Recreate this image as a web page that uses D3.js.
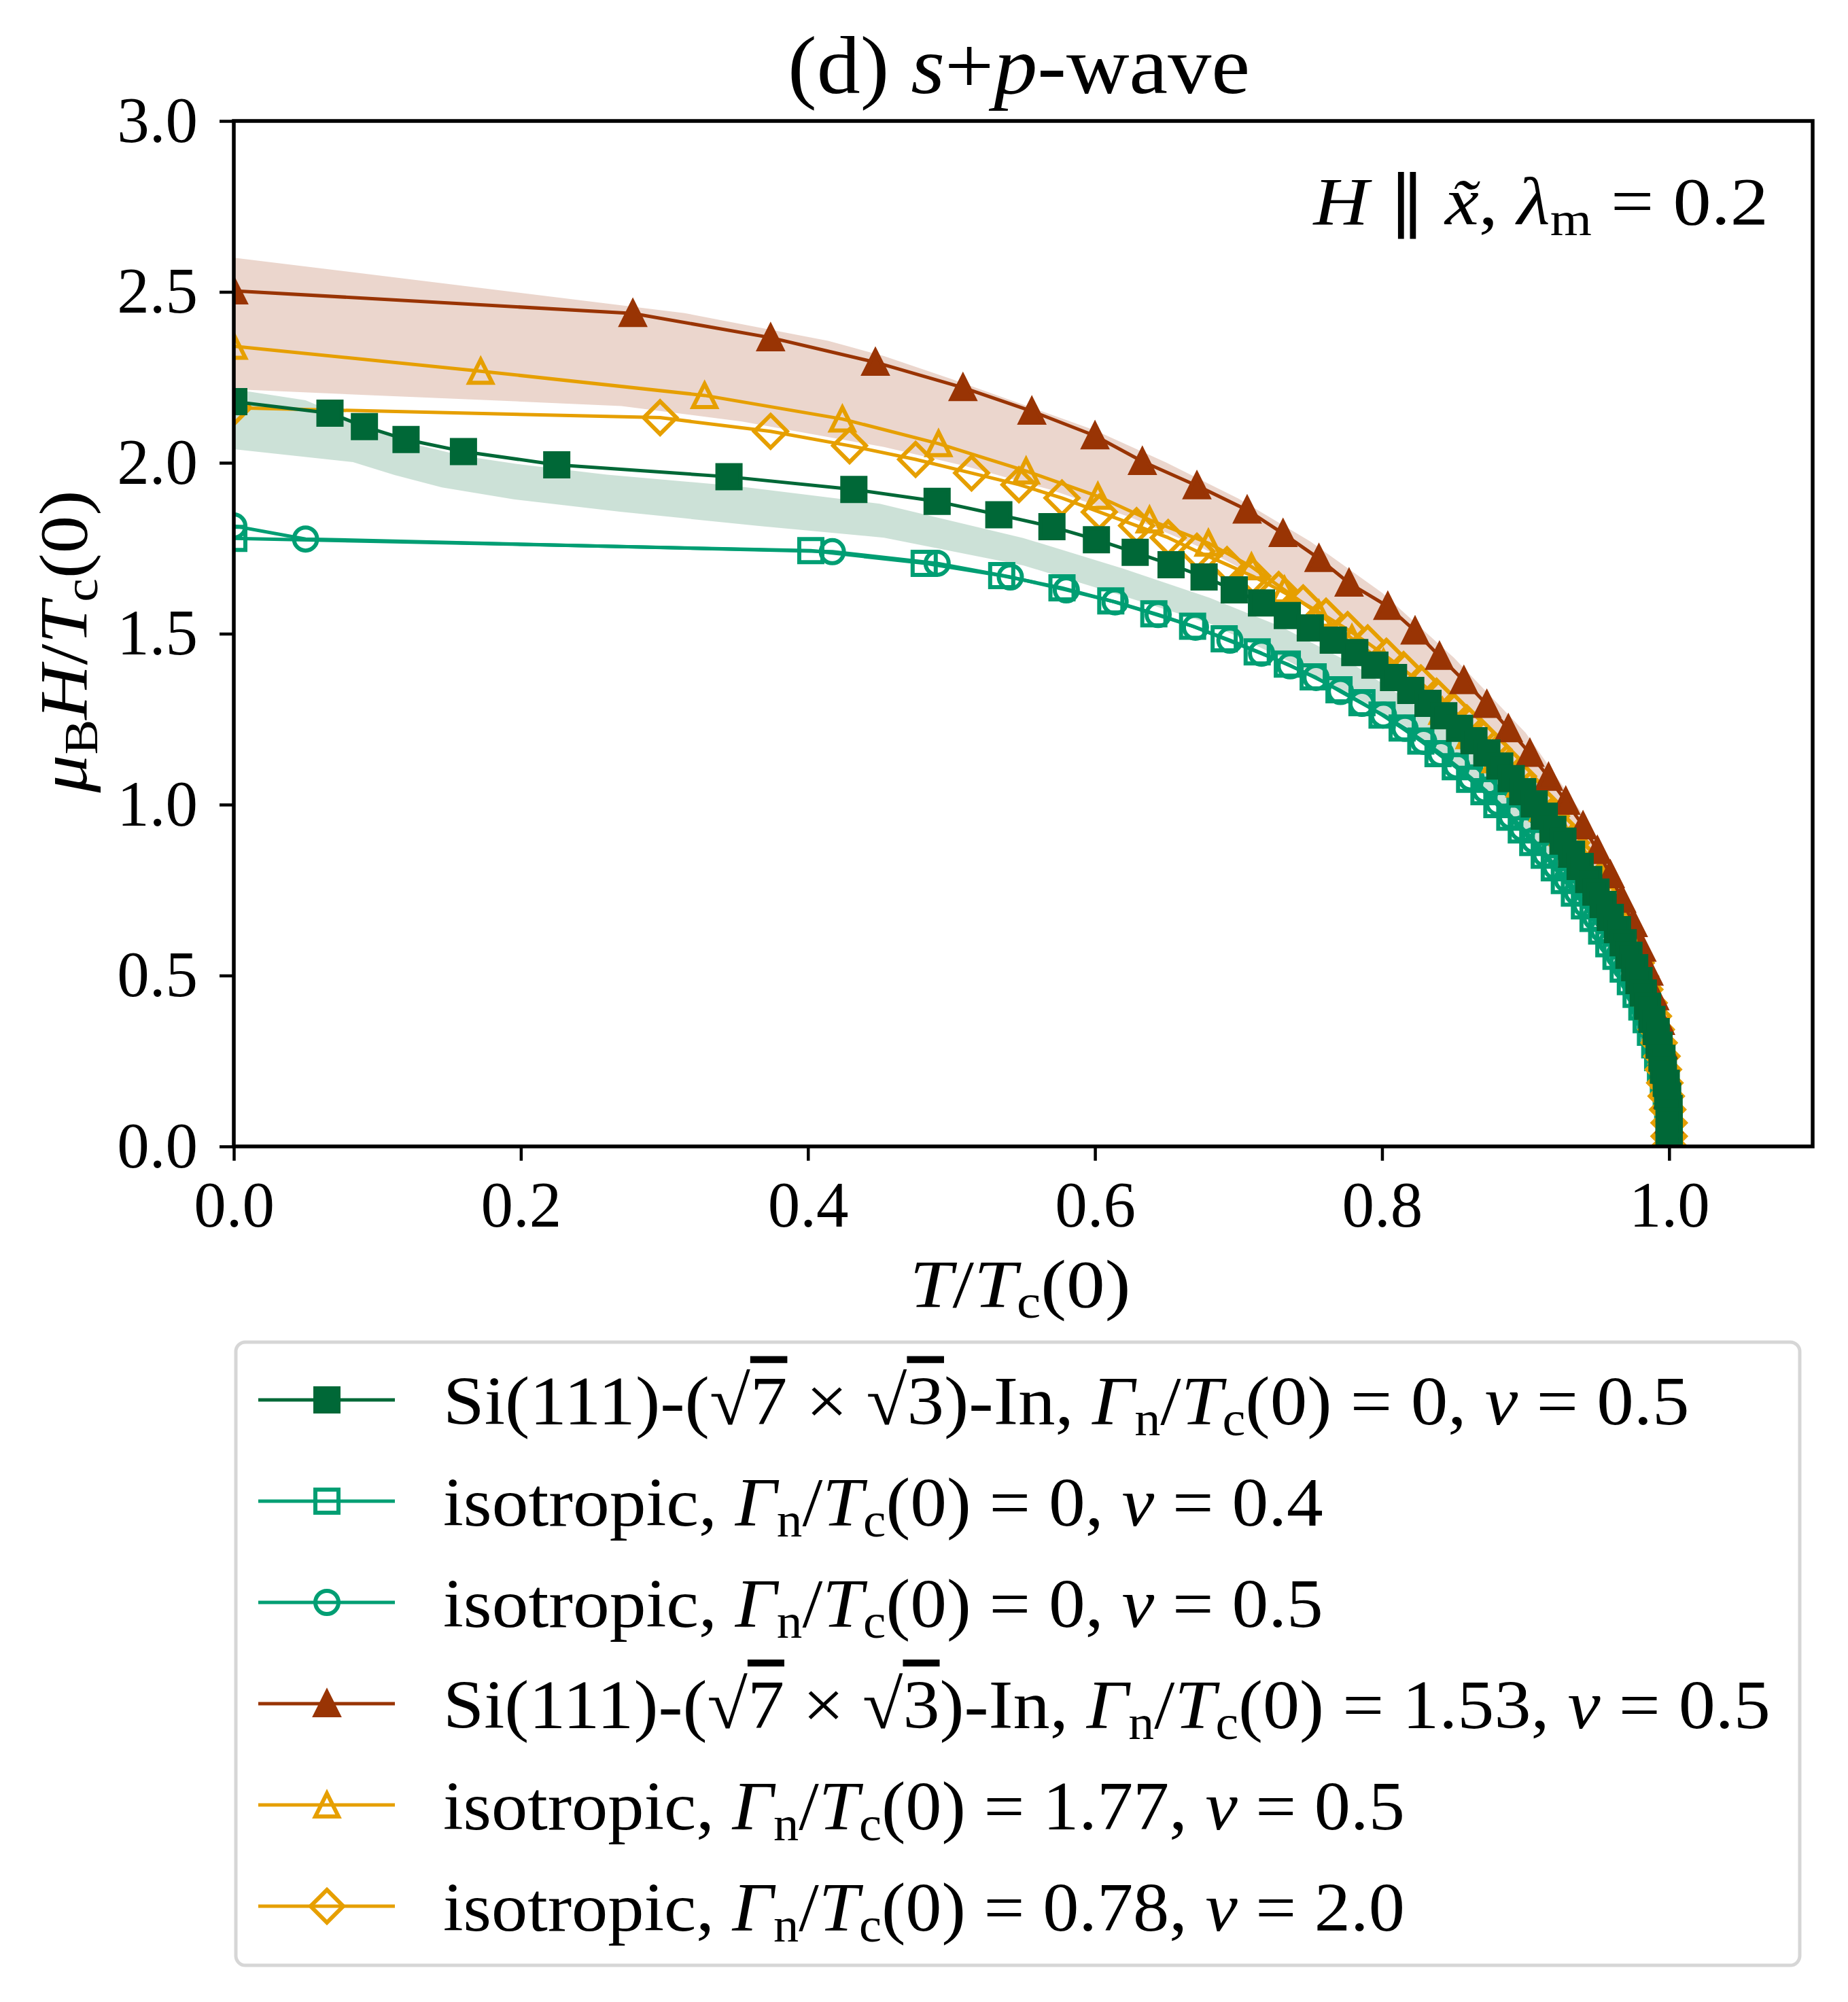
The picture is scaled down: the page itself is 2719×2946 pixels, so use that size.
<!DOCTYPE html>
<html>
<head>
<meta charset="utf-8">
<script src="https://cdn.jsdelivr.net/npm/d3@7"></script>
<style>
  body { margin: 0; background: #fff; }
  svg { display: block; }
  svg text { font-family: "Liberation Serif", "Times New Roman", serif; fill: #000; }
</style>
</head>
<body>
<div id="chart"></div>
<script>
const width = 2719;
const height = 2946;

// axis ticks
const xTicks = [0, 0.2, 0.4, 0.6, 0.8, 1.0];
const yTicks = [0, 0.5, 1.0, 1.5, 2.0, 2.5, 3.0];

// Si(111)-(sqrt7 x sqrt3)-In, Gamma_n/Tc(0) = 0, nu = 0.5
const tSiClean = [0, 0.067, 0.091, 0.12, 0.16, 0.225, 0.345, 0.432, 0.49, 0.533,
  0.570, 0.601, 0.628, 0.653, 0.676, 0.697, 0.716, 0.734, 0.750, 0.766,
  0.781, 0.795, 0.808, 0.820, 0.832, 0.843, 0.854, 0.864, 0.873, 0.882,
  0.890, 0.898, 0.906, 0.913, 0.919, 0.926, 0.932, 0.938, 0.944, 0.949,
  0.954, 0.959, 0.964, 0.968, 0.972, 0.976, 0.979, 0.982, 0.985, 0.988,
  0.991, 0.993, 0.995, 0.996, 0.998, 0.999, 1.0, 1.0, 1.0, 1.0];
const hSiClean = [2.179, 2.145, 2.106, 2.068, 2.033, 1.994, 1.959, 1.922, 1.887, 1.848,
  1.813, 1.775, 1.738, 1.702, 1.666, 1.628, 1.590, 1.553, 1.517, 1.481,
  1.445, 1.408, 1.372, 1.334, 1.296, 1.260, 1.223, 1.187, 1.151, 1.113,
  1.076, 1.038, 1.002, 0.966, 0.928, 0.893, 0.855, 0.819, 0.781, 0.744,
  0.708, 0.670, 0.634, 0.596, 0.559, 0.523, 0.485, 0.449, 0.410, 0.372,
  0.336, 0.296, 0.258, 0.223, 0.185, 0.147, 0.111, 0.074, 0.036, 0.0];

// isotropic, Gamma_n/Tc(0) = 0, nu = 0.4
const tIso04 = [0, 0.402, 0.481, 0.535, 0.577, 0.611, 0.641, 0.668, 0.690, 0.713,
  0.734, 0.752, 0.770, 0.786, 0.800, 0.814, 0.827, 0.839, 0.851, 0.861,
  0.871, 0.880, 0.889, 0.897, 0.905, 0.913, 0.920, 0.927, 0.934, 0.941,
  0.947, 0.953, 0.958, 0.963, 0.968, 0.973, 0.977, 0.981, 0.984, 0.987,
  0.990, 0.992, 0.994, 0.996, 0.998, 0.999, 1.0, 1.0, 1.0];
const hIso04 = [1.779, 1.743, 1.706, 1.670, 1.634, 1.596, 1.558, 1.522, 1.485, 1.447,
  1.411, 1.374, 1.336, 1.298, 1.262, 1.224, 1.186, 1.149, 1.111, 1.074,
  1.038, 1.000, 0.963, 0.926, 0.889, 0.852, 0.815, 0.778, 0.741, 0.704,
  0.667, 0.630, 0.593, 0.556, 0.519, 0.482, 0.445, 0.408, 0.371, 0.334,
  0.297, 0.260, 0.223, 0.186, 0.149, 0.111, 0.074, 0.037, 0.0];

// isotropic, Gamma_n/Tc(0) = 0, nu = 0.5
const tIso05 = [0, 0.05, 0.417, 0.49, 0.541, 0.580, 0.614, 0.644, 0.670, 0.694,
  0.716, 0.736, 0.754, 0.771, 0.786, 0.801, 0.816, 0.829, 0.841, 0.852,
  0.862, 0.872, 0.881, 0.890, 0.898, 0.906, 0.914, 0.921, 0.929, 0.936,
  0.942, 0.949, 0.954, 0.960, 0.965, 0.970, 0.975, 0.979, 0.982, 0.986,
  0.989, 0.991, 0.993, 0.995, 0.997, 0.998, 0.999, 1.0, 1.0, 1.0];
const hIso05 = [1.815, 1.777, 1.740, 1.706, 1.666, 1.628, 1.593, 1.556, 1.519, 1.481,
  1.443, 1.406, 1.372, 1.331, 1.296, 1.262, 1.223, 1.185, 1.149, 1.113,
  1.078, 1.042, 1.006, 0.966, 0.930, 0.895, 0.855, 0.819, 0.781, 0.744,
  0.708, 0.670, 0.634, 0.596, 0.559, 0.523, 0.485, 0.449, 0.410, 0.372,
  0.336, 0.296, 0.258, 0.223, 0.185, 0.147, 0.111, 0.074, 0.037, 0.0];

// Si(111)-(sqrt7 x sqrt3)-In, Gamma_n/Tc(0) = 1.53, nu = 0.5
const tSiDirty = [0, 0.278, 0.374, 0.447, 0.508, 0.556, 0.600, 0.633, 0.671, 0.706,
  0.731, 0.756, 0.777, 0.804, 0.823, 0.840, 0.857, 0.873, 0.888, 0.903,
  0.916, 0.928, 0.940, 0.950, 0.959, 0.967, 0.975, 0.981, 0.986, 0.990,
  0.994, 0.996, 0.998, 0.999, 1.0, 1.0];
const hSiDirty = [2.503, 2.437, 2.366, 2.294, 2.220, 2.151, 2.079, 2.004, 1.933, 1.862,
  1.793, 1.720, 1.648, 1.580, 1.508, 1.434, 1.363, 1.293, 1.222, 1.150,
  1.080, 1.010, 0.938, 0.866, 0.795, 0.723, 0.652, 0.580, 0.510, 0.438,
  0.366, 0.295, 0.222, 0.150, 0.078, 0.0];

// isotropic, Gamma_n/Tc(0) = 1.77, nu = 0.5
const tIso177 = [0, 0.172, 0.328, 0.424, 0.491, 0.552, 0.602, 0.638, 0.679, 0.709,
  0.732, 0.756, 0.779, 0.801, 0.822, 0.842, 0.861, 0.879, 0.896, 0.912,
  0.926, 0.939, 0.950, 0.960, 0.968, 0.976, 0.982, 0.987, 0.991, 0.995,
  0.997, 0.999, 1.0, 1.0];
const hIso177 = [2.341, 2.268, 2.197, 2.128, 2.056, 1.976, 1.902, 1.833, 1.765, 1.696,
  1.628, 1.557, 1.486, 1.415, 1.344, 1.273, 1.202, 1.131, 1.060, 0.989,
  0.918, 0.847, 0.776, 0.705, 0.634, 0.563, 0.492, 0.421, 0.350, 0.279,
  0.208, 0.137, 0.066, 0.0];

// isotropic, Gamma_n/Tc(0) = 0.78, nu = 2.0
const tIso078 = [0, 0.297, 0.374, 0.429, 0.475, 0.514, 0.547, 0.577, 0.603, 0.629,
  0.651, 0.671, 0.692, 0.710, 0.728, 0.745, 0.761, 0.776, 0.790, 0.803,
  0.815, 0.827, 0.838, 0.849, 0.859, 0.869, 0.878, 0.887, 0.895, 0.903,
  0.911, 0.918, 0.925, 0.932, 0.938, 0.944, 0.950, 0.955, 0.960, 0.965,
  0.969, 0.973, 0.977, 0.980, 0.983, 0.986, 0.989, 0.991, 0.993, 0.995,
  0.996, 0.997, 0.998, 0.999, 1.0, 1.0, 1.0];
const hIso078 = [2.161, 2.132, 2.092, 2.050, 2.010, 1.970, 1.936, 1.897, 1.856, 1.816,
  1.781, 1.741, 1.702, 1.668, 1.629, 1.590, 1.551, 1.512, 1.473, 1.434,
  1.395, 1.356, 1.317, 1.278, 1.239, 1.200, 1.161, 1.122, 1.083, 1.044,
  1.005, 0.966, 0.927, 0.888, 0.849, 0.810, 0.771, 0.732, 0.693, 0.654,
  0.615, 0.576, 0.537, 0.498, 0.459, 0.420, 0.381, 0.342, 0.303, 0.264,
  0.225, 0.186, 0.147, 0.108, 0.069, 0.030, 0.0];

// shaded ranges
const brownUpT = [0, 0.314, 0.414, 0.453, 0.50, 0.55, 0.60, 0.65, 0.70, 0.75, 0.80, 0.85, 0.90, 0.94, 0.97, 0.99, 1.0];
const brownUpH = [2.60, 2.438, 2.357, 2.312, 2.245, 2.17, 2.095, 2.0, 1.895, 1.77, 1.62, 1.43, 1.21, 0.97, 0.71, 0.44, 0.0];
const brownLoT = [0, 0.10, 0.20, 0.27, 0.354, 0.453, 0.51, 0.57, 0.625, 0.675, 0.72, 0.765, 0.81, 0.855, 0.90, 0.935, 0.965, 0.99, 1.0];
const brownLoH = [2.215, 2.197, 2.179, 2.166, 2.121, 2.046, 1.99, 1.92, 1.84, 1.75, 1.65, 1.53, 1.38, 1.20, 0.98, 0.76, 0.53, 0.28, 0.0];
const greenUpT = [0, 0.05, 0.08, 0.12, 0.16, 0.20, 0.26, 0.35, 0.45, 0.55, 0.62, 0.68, 0.73, 0.78, 0.82, 0.86, 0.90, 0.93, 0.96, 0.98, 0.995, 1.0];
const greenUpH = [2.215, 2.183, 2.13, 2.06, 2.02, 1.995, 1.965, 1.932, 1.88, 1.78, 1.69, 1.605, 1.52, 1.41, 1.30, 1.17, 1.0, 0.85, 0.63, 0.44, 0.2, 0.0];
const greenLoT = [0, 0.083, 0.112, 0.145, 0.195, 0.269, 0.366, 0.453, 0.55, 0.62, 0.68, 0.73, 0.78, 0.82, 0.86, 0.90, 0.93, 0.96, 0.98, 0.995, 1.0];
const greenLoH = [2.04, 2.002, 1.964, 1.928, 1.893, 1.857, 1.815, 1.781, 1.70, 1.61, 1.53, 1.43, 1.32, 1.22, 1.09, 0.92, 0.77, 0.56, 0.37, 0.17, 0.0];

// legend entries
const legendSystem = ["Si", "iso", "iso", "Si", "iso", "iso"];
const legendGamma = ["0", "0", "0", "1.53", "1.77", "0.78"];
const legendNu = ["0.5", "0.4", "0.5", "0.5", "0.5", "2.0"];

const cDark = "#006837", cTeal = "#009e73", cBrown = "#993404", cOrange = "#e69f00";

const svg = d3.select("#chart").append("svg")
  .attr("width", width)
  .attr("height", height);
svg.append("rect").attr("width", width).attr("height", height).attr("fill", "#fff");

const x = d3.scaleLinear().domain([0, 1.1]).range([344, 2667]);
const y = d3.scaleLinear().domain([0, 3]).range([1687, 178]);

svg.append("clipPath").attr("id", "plotclip").append("rect")
  .attr("x", x(0)).attr("y", y(3))
  .attr("width", x(1.1) - x(0)).attr("height", y(0) - y(3));

const plot = svg.append("g").attr("clip-path", "url(#plotclip)");

// bands
function edge(ts, hs) { return ts.map((t, i) => [x(t), y(hs[i])]); }
[
  [brownUpT, brownUpH, brownLoT, brownLoH, cBrown],
  [greenUpT, greenUpH, greenLoT, greenLoH, cDark]
].forEach(([ut, uh, lt, lh, col]) => {
  const pts = edge(ut, uh).concat(edge(lt, lh).reverse());
  plot.append("path")
    .attr("d", d3.line()(pts) + "Z")
    .attr("fill", col)
    .attr("fill-opacity", 0.2);
});

// marker shapes (matplotlib-like)
const ms = 34;
const dd = ms / Math.SQRT2;
const markerPath = {
  square: `M${-ms/2},${-ms/2}h${ms}v${ms}h${-ms}Z`,
  circle: `M${ms/2},0A${ms/2},${ms/2} 0 1,1 ${-ms/2},0A${ms/2},${ms/2} 0 1,1 ${ms/2},0Z`,
  triangle: `M0,${-ms/2}L${ms/2},${ms/2}L${-ms/2},${ms/2}Z`,
  diamond: `M0,${-dd}L${dd},0L0,${dd}L${-dd},0Z`
};

const series = {
  siClean:  { t: tSiClean, h: hSiClean, color: cDark,   marker: "square",   filled: true },
  iso04:    { t: tIso04,   h: hIso04,   color: cTeal,   marker: "square",   filled: false },
  iso05:    { t: tIso05,   h: hIso05,   color: cTeal,   marker: "circle",   filled: false },
  siDirty:  { t: tSiDirty, h: hSiDirty, color: cBrown,  marker: "triangle", filled: true },
  iso177:   { t: tIso177,  h: hIso177,  color: cOrange, marker: "triangle", filled: false },
  iso078:   { t: tIso078,  h: hIso078,  color: cOrange, marker: "diamond",  filled: false }
};
const drawOrder = ["iso04", "iso05", "iso177", "iso078", "siDirty", "siClean"];
const legendOrder = ["siClean", "iso04", "iso05", "siDirty", "iso177", "iso078"];

const lineW = 5, edgeW = 6;

function drawMarker(g, s) {
  return g.append("path")
    .attr("d", markerPath[s.marker])
    .attr("fill", s.filled ? s.color : "none")
    .attr("stroke", s.color)
    .attr("stroke-width", edgeW)
    .attr("stroke-linejoin", "miter");
}

drawOrder.forEach(key => {
  const s = series[key];
  const idx = d3.range(s.t.length);
  plot.append("path")
    .attr("d", d3.line().x(i => x(s.t[i])).y(i => y(s.h[i]))(idx))
    .attr("fill", "none")
    .attr("stroke", s.color)
    .attr("stroke-width", lineW)
    .attr("stroke-linejoin", "round");
  const g = plot.append("g");
  idx.forEach(i => {
    drawMarker(g, s).attr("transform", `translate(${x(s.t[i])},${y(s.h[i])})`);
  });
});

// axes
const fontFam = "Liberation Serif, Times New Roman, serif";
const xAxis = svg.append("g")
  .attr("transform", `translate(0,${y(0)})`)
  .call(d3.axisBottom(x).tickValues(xTicks).tickFormat(d3.format(".1f")).tickSize(21).tickPadding(30));
const yAxis = svg.append("g")
  .attr("transform", `translate(${x(0)},0)`)
  .call(d3.axisLeft(y).tickValues(yTicks).tickFormat(d3.format(".1f")).tickSize(21).tickPadding(32));
[xAxis, yAxis].forEach(a => {
  a.select(".domain").remove();
  a.attr("font-size", 95).attr("font-family", fontFam);
  a.selectAll(".tick line").attr("stroke", "#000").attr("stroke-width", 4.5);
  a.selectAll(".tick text").attr("fill", "#000");
});

svg.append("rect")
  .attr("x", x(0)).attr("y", y(3))
  .attr("width", x(1.1) - x(0)).attr("height", y(0) - y(3))
  .attr("fill", "none").attr("stroke", "#000").attr("stroke-width", 5.5);

// rich text helper: parts = [text, kind]; kind "i" italic, "sub" subscript, "ov" overline
function richText(parent, px, py, parts, size, anchor, target, rotate) {
  const g = parent.append("g")
    .attr("transform", `translate(${px},${py})` + (rotate ? ` rotate(${rotate})` : ""));
  const t = g.append("text")
    .attr("font-size", size)
    .attr("text-anchor", anchor)
    .style("white-space", "pre");
  let shift = 0;
  parts.forEach(([s, k]) => {
    const sub = k === "sub";
    const want = sub ? size * 0.16 : 0;
    const ts = t.append("tspan").text(s).attr("dy", want - shift);
    shift = want;
    if (sub) ts.attr("font-size", size * 0.7);
    if (k === "i") ts.attr("font-style", "italic");
    if (k === "ov") ts.style("text-decoration", "overline");
  });
  if (target) {
    const w = t.node().getBBox().width;
    if (w > 0) t.attr("transform", `scale(${target / w},1)`);
  }
  return t;
}

// title
richText(svg, 1499, 137,
  [["(d) ", ""], ["s", "i"], ["+", ""], ["p", "i"], ["-wave", ""]], 120, "middle", 680);

// annotation
richText(svg, 2602, 330,
  [["H", "i"], [" \u2225 ", ""], ["x\u0303", "i"], [", ", ""], ["\u03bb", "i"], ["m", "sub"], [" = 0.2", ""]],
  100, "end", 672);

// axis labels
richText(svg, 1501, 1923,
  [["T", "i"], ["/", ""], ["T", "i"], ["c", "sub"], ["(0)", ""]], 100, "middle", 325);
richText(svg, 127, 944,
  [["\u03bc", "i"], ["B", "sub"], ["H", "i"], ["/", ""], ["T", "i"], ["c", "sub"], ["(0)", ""]],
  100, "middle", 446, -90);

// legend
const legend = svg.append("g");
legend.append("rect")
  .attr("x", 347).attr("y", 1975)
  .attr("width", 2301).attr("height", 1917 - 1000)
  .attr("rx", 14)
  .attr("fill", "#fff").attr("fill-opacity", 0.8)
  .attr("stroke", "#cccccc").attr("stroke-opacity", 0.8).attr("stroke-width", 5);

const legendTargets = [1834, 1295, 1295, 1953, 1415, 1415];
legendOrder.forEach((key, i) => {
  const s = series[key];
  const cy = 2060 + 149 * i;
  legend.append("line")
    .attr("x1", 380).attr("x2", 581).attr("y1", cy).attr("y2", cy)
    .attr("stroke", s.color).attr("stroke-width", lineW);
  drawMarker(legend, s).attr("transform", `translate(481,${cy})`);
  const prefix = legendSystem[i] === "Si"
    ? [["Si(111)-(", ""], ["\u221a", ""], ["7", "ov"], [" \u00d7 ", ""], ["\u221a", ""], ["3", "ov"], [")-In, ", ""]]
    : [["isotropic, ", ""]];
  const parts = prefix.concat([
    ["\u0393", "i"], ["n", "sub"], ["/", ""], ["T", "i"], ["c", "sub"],
    [`(0) = ${legendGamma[i]}, `, ""], ["\u03bd", "i"], [` = ${legendNu[i]}`, ""]
  ]);
  richText(legend, 652, cy + 36, parts, 102, "start", legendTargets[i]);
});
</script>
</body>
</html>
